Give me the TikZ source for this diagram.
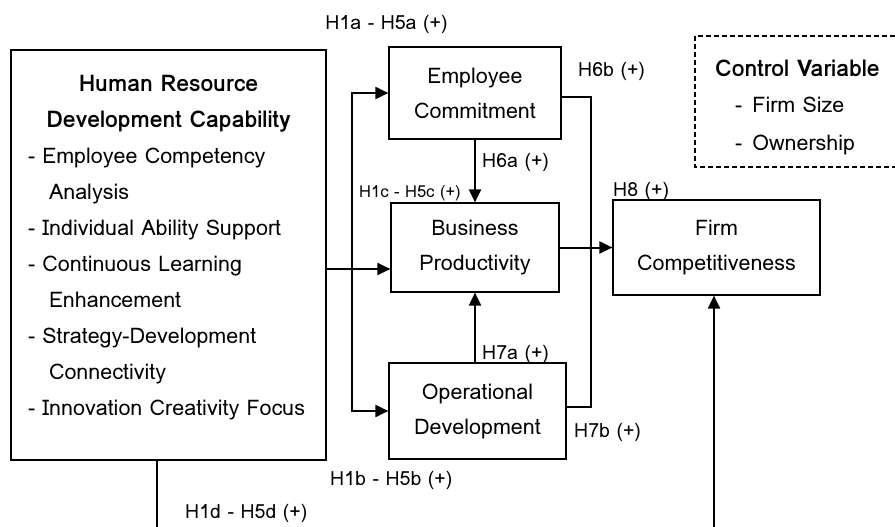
\documentclass[tikz,border=0pt]{standalone}
\usepackage{fontspec}
\setmainfont{Loma}
\usetikzlibrary{arrows.meta}

\begin{document}
\begin{tikzpicture}[x=1pt,y=-1pt,
    box/.style={draw,line width=1.2pt,inner sep=0pt,align=center,font=\fontsize{21.5}{35}\selectfont},
    dashbox/.style={draw,dash pattern=on 5pt off 3pt,line width=1.2pt},
    conn/.style={line width=2pt},
    arr/.style={conn,-{Triangle[length=13pt,width=12pt]}},
    lbl/.style={anchor=base west,inner sep=0pt,font=\fontsize{19.5}{24}\selectfont},
    smalllbl/.style={lbl,font=\fontsize{16.5}{20}\selectfont}]
    \useasboundingbox (0,0) rectangle (895,527);
    \node[box,minimum width=315pt,minimum height=410pt] (hrd) at (168.5,255) {%
      \begin{minipage}{281pt}\fontsize{21.5}{36}\selectfont
        \centering{\fontsize{23}{36}\selectfont\bfseries Human Resource\\ Development Capability\par}
        \raggedright
        - Employee Competency\\ \hspace*{21pt}Analysis\\
        - Individual Ability Support\\
        - Continuous Learning\\ \hspace*{21pt}Enhancement\\
        - Strategy-Development\\ \hspace*{21pt}Connectivity\\
        - Innovation Creativity Focus\par\vspace*{15pt}
      \end{minipage}};
    \node[box,minimum width=172pt,minimum height=92pt] (ec) at (475,93) {Employee\\Commitment};
    \node[box,minimum width=168pt,minimum height=89pt] (bo) at (475,247.5) {Business\\Productivity};
    \node[box,minimum width=177pt,minimum height=96pt] (od) at (477.5,411) {Operational\\Development};
    \node[box,minimum width=207pt,minimum height=95pt] (fc) at (716.5,247.5) {Firm\\Competitiveness};
    \draw[dashbox] (695,36) rectangle (896,167);
    \node[lbl,font=\fontsize{23}{24}\selectfont\bfseries] (cvtitle) at (715,77) {Control Variable};
    \node[lbl,font=\fontsize{21.5}{24}\selectfont] (cvsize) at (735,113) {-\hspace{10pt}Firm Size};
    \node[lbl,font=\fontsize{21.5}{24}\selectfont] (cvown) at (735,150) {-\hspace{10pt}Ownership};
    \coordinate (hin) at ([yshift=-14pt]hrd.east);
    \coordinate (bus) at (352,0);
    \coordinate (rb) at (591,0);
    \coordinate (eout) at ([yshift=-4pt]ec.east);
    \coordinate (oout) at ([yshift=4pt]od.east);
    \coordinate (hrdend) at (157,530);
    \coordinate (fcin) at (714,530);
    \draw[arr] (hin) -- (hin -| bo.west);
    \draw[arr] (hin -| bus) |- (ec.west);
    \draw[arr] (hin -| bus) |- (od.west);
    \draw[arr] (ec) -- (bo);
    \draw[arr] (bo.south |- od.north) -- (bo.south);
    \draw[conn] (eout) -- (eout -| rb) -- (oout -| rb) -- (oout);
    \draw[arr] (bo) -- (fc);
    \draw[conn] (hrd.south -| hrdend) -- (hrdend);
    \draw[arr] (fcin) -- (fcin |- fc.south);
    \node[lbl,anchor=base] (h1a) at (386.5,30) {H1a - H5a (+)};
    \node[lbl] (h6b) at (578,77) {H6b (+)};
    \node[lbl] (h6a) at (482,167) {H6a (+)};
    \node[smalllbl] (h1c) at (359,197) {H1c - H5c (+)};
    \node[lbl] (h8) at (613,196) {H8 (+)};
    \node[lbl] (h7a) at (482,359) {H7a (+)};
    \node[lbl] (h7b) at (574,437) {H7b (+)};
    \node[lbl] (h1b) at (330,485) {H1b - H5b (+)};
    \node[lbl] (h1d) at (185,518) {H1d - H5d (+)};
\end{tikzpicture}
\end{document}
